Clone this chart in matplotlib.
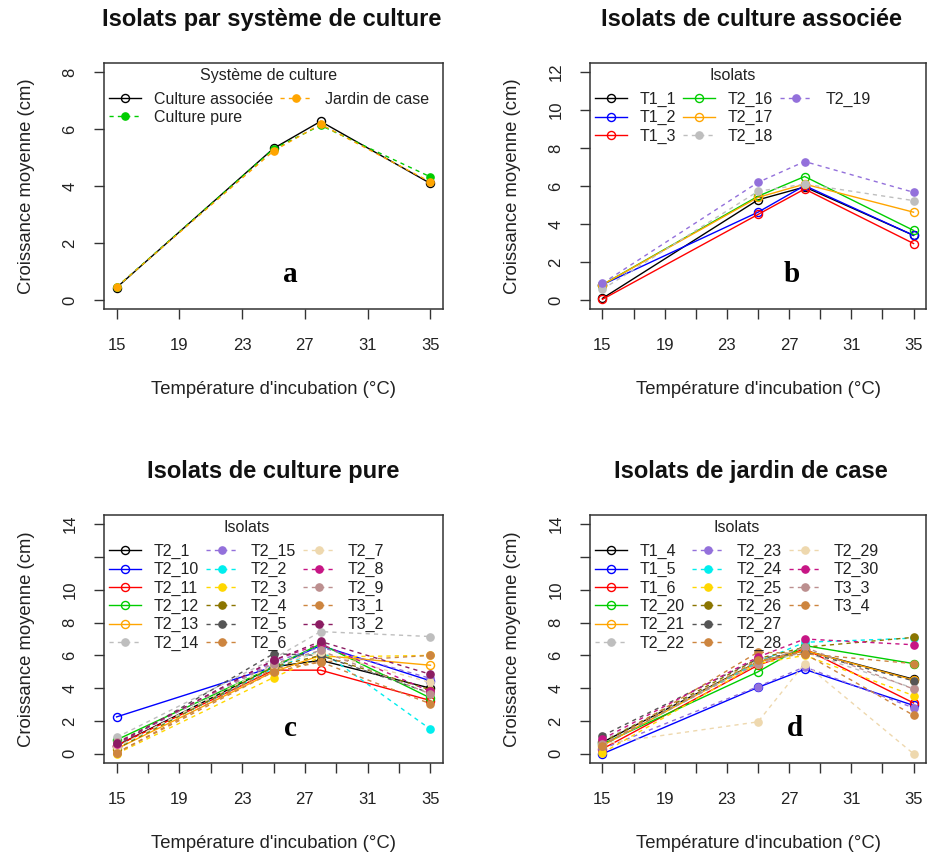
import matplotlib
matplotlib.use('Agg')
import matplotlib.pyplot as plt
from matplotlib.lines import Line2D

plt.rcParams['font.family'] = ['Liberation Sans', 'DejaVu Sans']

temps = [15, 25, 28, 35]

# ---- Panel a : par système de culture
sys_names = ['Culture associée', 'Culture pure', 'Jardin de case']
sys_values = [
    [0.43, 5.32, 6.27, 4.09],
    [0.45, 5.30, 6.13, 4.32],
    [0.45, 5.23, 6.17, 4.14],
]
sys_colors = ['#000000', '#00CD00', '#FFA500']
sys_solid = [True, False, False]

# ---- Panel b : culture associée
assoc_names = ['T1_1', 'T1_2', 'T1_3', 'T2_16', 'T2_17', 'T2_18', 'T2_19']
assoc_values = [
    [0.08, 5.27, 5.95, 3.40],
    [0.80, 4.62, 6.02, 3.40],
    [0.03, 4.50, 5.84, 2.97],
    [0.80, 5.46, 6.50, 3.66],
    [0.80, 5.40, 6.10, 4.62],
    [0.56, 5.72, 6.10, 5.23],
    [0.87, 6.19, 7.29, 5.67],
]

# ---- Panel c : culture pure
pure_names = ['T2_1', 'T2_10', 'T2_11', 'T2_12', 'T2_13', 'T2_14', 'T2_15', 'T2_2', 'T2_3',
              'T2_4', 'T2_5', 'T2_6', 'T2_7', 'T2_8', 'T2_9', 'T3_1', 'T3_2']
pure_values = [
    [0.50, 5.30, 5.70, 4.00],
    [2.25, 5.30, 6.60, 4.45],
    [0.50, 5.10, 5.10, 3.25],
    [0.85, 5.30, 6.70, 3.40],
    [0.30, 5.00, 6.00, 5.40],
    [1.00, 5.80, 7.45, 7.15],
    [0.60, 5.60, 6.50, 4.60],
    [0.40, 5.20, 6.30, 1.50],
    [0.00, 4.65, 5.90, 6.00],
    [0.30, 5.30, 6.00, 3.90],
    [0.50, 6.10, 6.00, 3.70],
    [0.05, 5.20, 5.60, 6.00],
    [0.40, 5.40, 6.20, 4.35],
    [0.60, 5.70, 6.70, 3.80],
    [0.70, 5.50, 6.30, 3.65],
    [0.05, 5.00, 5.60, 3.05],
    [0.65, 5.70, 6.85, 4.85],
]

# ---- Panel d : jardin de case
jardin_names = ['T1_4', 'T1_5', 'T1_6', 'T2_20', 'T2_21', 'T2_22', 'T2_23', 'T2_24',
                'T2_25', 'T2_26', 'T2_27', 'T2_28', 'T2_29', 'T2_30', 'T3_3', 'T3_4']
jardin_values = [
    [0.70, 5.60, 6.30, 4.55],
    [0.00, 4.05, 5.15, 2.95],
    [0.30, 5.40, 6.40, 3.10],
    [0.60, 5.00, 6.60, 5.50],
    [0.50, 5.60, 6.30, 4.50],
    [0.80, 5.50, 6.20, 4.00],
    [0.30, 4.10, 5.30, 2.80],
    [0.50, 5.60, 6.80, 7.05],
    [0.05, 5.50, 6.00, 3.55],
    [0.70, 5.80, 6.50, 7.10],
    [1.10, 5.80, 6.20, 4.45],
    [0.50, 6.20, 6.10, 5.50],
    [0.60, 1.95, 5.50, 0.00],
    [0.90, 5.90, 7.00, 6.65],
    [0.60, 5.50, 6.50, 3.95],
    [0.50, 5.70, 6.10, 2.35],
]

palette = ['#000000', '#0000FF', '#FF0000', '#00CD00', '#FFA500', '#BEBEBE', '#9370DB',
           '#00EEEE', '#FFD700', '#8B7500', '#555555', '#CD853F', '#EED8AE', '#C71585',
           '#BC8F8F', '#CD853F', '#8B1C62']

titles = ['Isolats par système de culture', 'Isolats de culture associée',
          'Isolats de culture pure', 'Isolats de jardin de case']
letters = ['a', 'b', 'c', 'd']
xlab = "Température d'incubation (°C)"
ylab = 'Croissance moyenne (cm)'

W, H = 930, 858
fig = plt.figure(figsize=(W / 100, H / 100), dpi=100)


def add_ax(l, t, r, b):
    return fig.add_axes([l / W, 1 - b / H, (r - l) / W, (b - t) / H])


axes = [add_ax(104, 63, 443, 309), add_ax(590, 63, 926, 309),
        add_ax(104, 515, 443, 763), add_ax(590, 515, 926, 763)]

DASH = (0, (3, 3))


def draw(ax, names, values, colors, solid):
    handles = []
    for n, v, c, s in zip(names, values, colors, solid):
        if s:
            ln, = ax.plot(temps, v, color=c, lw=1.0, ls='-', marker='o', ms=5.8,
                          mfc='none', mec=c, mew=1.0, label=n)
        else:
            ln, = ax.plot(temps, v, color=c, lw=1.0, ls=DASH, marker='o', ms=5.2,
                          mfc=c, mec=c, label=n)
        handles.append(ln)
    return handles


def style(ax, ymax, title, letter, lx, tx, xminor=True, skip12=False):
    ax.set_xlim(14.2, 35.8)
    ax.set_ylim(-0.04 * ymax, ymax * 1.04)
    ax.set_xticks([15, 19, 23, 27, 31, 35])
    if xminor:
        ax.set_xticks([17, 21, 25, 29, 33], minor=True)
    yt = list(range(0, ymax + 1, 2))
    ax.set_yticks(yt)
    ax.set_yticklabels(['' if (skip12 and y == 12) else str(y) for y in yt],
                       rotation=90, va='center')
    ax.tick_params(axis='both', which='both', direction='out', length=7, width=1,
                   color='#333333', labelsize=12, labelcolor='#222222')
    ax.tick_params(axis='y', pad=12)
    ax.tick_params(axis='x', pad=14)
    for sp in ax.spines.values():
        sp.set_linewidth(1.1)
        sp.set_color('#333333')
    ax.set_xlabel(xlab, fontsize=13.3, labelpad=20, color='#222222')
    ax.set_ylabel(ylab, fontsize=13.3, labelpad=20, color='#222222')
    ax.set_title(title, fontsize=17, fontweight='bold', pad=27, color='#111111', x=tx)
    ax.text(lx, 0.14, letter, transform=ax.transAxes, ha='center', va='center',
            fontsize=21, fontweight='bold', family=['Liberation Serif', 'DejaVu Serif'])


def legend(ax, handles, title, ncol, nblank=0):
    hs = list(handles) + [Line2D([], [], ls='none') for _ in range(nblank)]
    labs = [h.get_label() for h in handles] + [''] * nblank
    leg = ax.legend(hs, labs, title=title, ncol=ncol, loc='upper left',
                    bbox_to_anchor=(0, 1), frameon=False, fontsize=11.5,
                    title_fontsize=11.5, handlelength=2.0, handletextpad=0.8,
                    columnspacing=0.45, labelspacing=0.2, borderpad=0.3,
                    borderaxespad=0.0, numpoints=1)
    leg._legend_box.sep = 6.5
    leg.get_title().set_color('#222222')
    for t in leg.get_texts():
        t.set_color('#222222')


# Panel a
ax = axes[0]
h = draw(ax, sys_names, sys_values, sys_colors, sys_solid)
style(ax, 8, titles[0], letters[0], 0.55, 0.495, xminor=False)
legend(ax, h, 'Système de culture', 2)

# Panel b
ax = axes[1]
h = draw(ax, assoc_names, assoc_values, palette[:len(assoc_names)],
         [i < 5 for i in range(len(assoc_names))])
style(ax, 12, titles[1], letters[1], 0.60, 0.48)
legend(ax, h, 'Isolats', 3, nblank=2)

# Panel c
ax = axes[2]
h = draw(ax, pure_names, pure_values, palette[:len(pure_names)],
         [i < 5 for i in range(len(pure_names))])
style(ax, 14, titles[2], letters[2], 0.55, 0.5, skip12=True)
legend(ax, h, 'Isolats', 3)

# Panel d
ax = axes[3]
h = draw(ax, jardin_names, jardin_values, palette[:len(jardin_names)],
         [i < 5 for i in range(len(jardin_names))])
style(ax, 14, titles[3], letters[3], 0.61, 0.48, skip12=True)
legend(ax, h, 'Isolats', 3, nblank=2)

fig.savefig('out.png', dpi=100)
